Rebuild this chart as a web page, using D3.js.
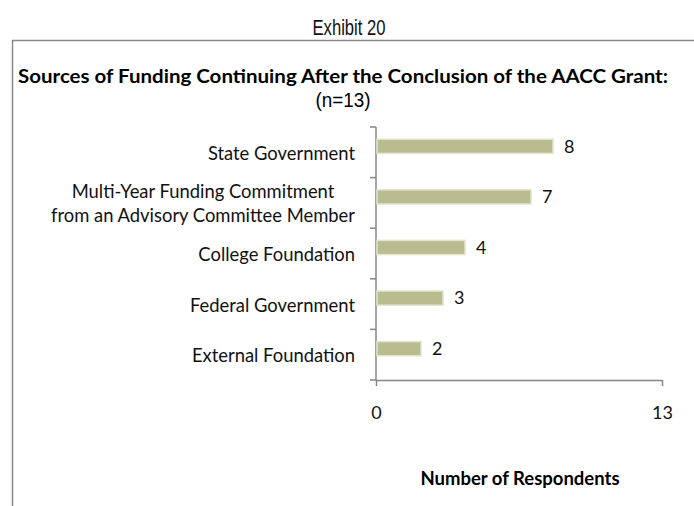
<!DOCTYPE html>
<html>
<head>
<meta charset="utf-8">
<script src="https://cdn.jsdelivr.net/npm/d3@7"></script>
<style>
  html, body { margin: 0; padding: 0; background: #fff; }
  svg { display: block; }
</style>
</head>
<body>
<svg id="chart" width="694" height="506"></svg>
<script>
// Funding sources reported by grantees, top to bottom as displayed
const categories = [
  ["State Government"],
  ["Multi-Year Funding Commitment", "from an Advisory Committee Member"],
  ["College Foundation"],
  ["Federal Government"],
  ["External Foundation"]
];
const respondents = [8, 7, 4, 3, 2];
const xTicks = [0, 13];

const exhibitLabel = "Exhibit 20";
const chartTitle = "Sources of Funding Continuing After the Conclusion of the AACC Grant:";
const chartSubtitle = "(n=13)";
const xAxisTitle = "Number of Respondents";

const W = 694, H = 506;
const svg = d3.select("#chart");
const sans = "Lato, 'Open Sans', sans-serif";
const narrow = "'Liberation Sans', Arial, sans-serif";

// exhibit heading above the frame (condensed to a narrow face)
svg.append("text")
  .attr("x", 349).attr("y", 35)
  .attr("text-anchor", "middle")
  .attr("font-family", narrow)
  .attr("font-size", 22)
  .attr("textLength", 73)
  .attr("lengthAdjust", "spacingAndGlyphs")
  .attr("fill", "#111")
  .text(exhibitLabel);

// chart frame (continues past the right and bottom edges)
svg.append("rect")
  .attr("x", 12.5).attr("y", 40.5)
  .attr("width", W + 20).attr("height", H + 20)
  .attr("fill", "none")
  .attr("stroke", "#8a8a8a")
  .attr("stroke-width", 1.5);

svg.append("text")
  .attr("x", 343).attr("y", 83)
  .attr("text-anchor", "middle")
  .attr("font-family", sans)
  .attr("font-weight", "bold")
  .attr("font-size", 18.5)
  .attr("textLength", 650)
  .attr("lengthAdjust", "spacingAndGlyphs")
  .attr("fill", "#000")
  .text(chartTitle);

svg.append("text")
  .attr("x", 343).attr("y", 107)
  .attr("text-anchor", "middle")
  .attr("font-family", narrow)
  .attr("font-size", 20)
  .attr("textLength", 55)
  .attr("lengthAdjust", "spacingAndGlyphs")
  .attr("fill", "#000")
  .text(chartSubtitle);

// scales
const plot = { left: 376, right: 662, top: 127, bottom: 380 };
const x = d3.scaleLinear().domain([0, 13]).range([plot.left, plot.right]);
const y = d3.scaleBand()
  .domain(d3.range(categories.length))
  .range([plot.top, plot.bottom])
  .paddingInner(0.72)
  .paddingOuter(0.36);

const axisColor = "#868686";

// y axis: line with tick marks between categories
const yBoundaries = d3.range(categories.length + 1).map(i => plot.top + i * y.step());
svg.append("line")
  .attr("x1", plot.left).attr("x2", plot.left)
  .attr("y1", plot.top).attr("y2", plot.bottom)
  .attr("stroke", axisColor).attr("stroke-width", 1.5);
svg.selectAll(".ytick").data(yBoundaries).join("line")
  .attr("class", "ytick")
  .attr("x1", plot.left - 6).attr("x2", plot.left)
  .attr("y1", d => d).attr("y2", d => d)
  .attr("stroke", axisColor).attr("stroke-width", 1.5);

// x axis
const xAxis = d3.axisBottom(x).tickValues(xTicks).tickSize(6).tickSizeOuter(0).tickPadding(20);
const gx = svg.append("g")
  .attr("transform", `translate(0,${plot.bottom})`)
  .call(xAxis);
gx.select(".domain").attr("stroke", axisColor).attr("stroke-width", 1.5);
gx.selectAll(".tick line").attr("stroke", axisColor).attr("stroke-width", 1.5);
gx.selectAll(".tick text")
  .attr("font-family", sans)
  .attr("font-size", 18)
  .attr("fill", "#111");

// bars sit slightly above the middle of each category band
const barShift = -6;
svg.selectAll(".bar").data(respondents).join("rect")
  .attr("class", "bar")
  .attr("x", x(0) + 1)
  .attr("y", (d, i) => y(i) + barShift)
  .attr("width", d => x(d) - x(0))
  .attr("height", y.bandwidth())
  .attr("fill", "#b9bc8f")
  .attr("stroke", "#e3e3cf")
  .attr("stroke-width", 1.5);

// value labels
svg.selectAll(".val").data(respondents).join("text")
  .attr("class", "val")
  .attr("x", d => x(d) + 12)
  .attr("y", (d, i) => y(i) + barShift + y.bandwidth() / 2)
  .attr("dy", "0.35em")
  .attr("font-family", sans)
  .attr("font-size", 18)
  .attr("fill", "#111")
  .text(d => d);

// category labels, multi-line ones centred on their widest line
const labelRight = 355;
categories.forEach((lines, i) => {
  const cy = y(i) + y.bandwidth() / 2 + 1;
  const lineH = 24;
  const g = svg.append("text")
    .attr("font-family", sans)
    .attr("font-size", 18.4)
    .attr("fill", "#111");
  const tspans = lines.map((ln, k) => g.append("tspan")
    .attr("y", cy + (k - (lines.length - 1) / 2) * lineH)
    .attr("dy", "0.35em")
    .text(ln));
  if (lines.length === 1) {
    g.attr("text-anchor", "end");
    tspans[0].attr("x", labelRight);
  } else {
    g.attr("text-anchor", "middle");
    const widest = d3.max(tspans, t => t.node().getComputedTextLength());
    tspans.forEach(t => t.attr("x", labelRight - widest / 2));
  }
});

svg.append("text")
  .attr("x", 520).attr("y", 485)
  .attr("text-anchor", "middle")
  .attr("font-family", sans)
  .attr("font-weight", "bold")
  .attr("font-size", 18.5)
  .attr("fill", "#000")
  .text(xAxisTitle);
</script>
</body>
</html>
